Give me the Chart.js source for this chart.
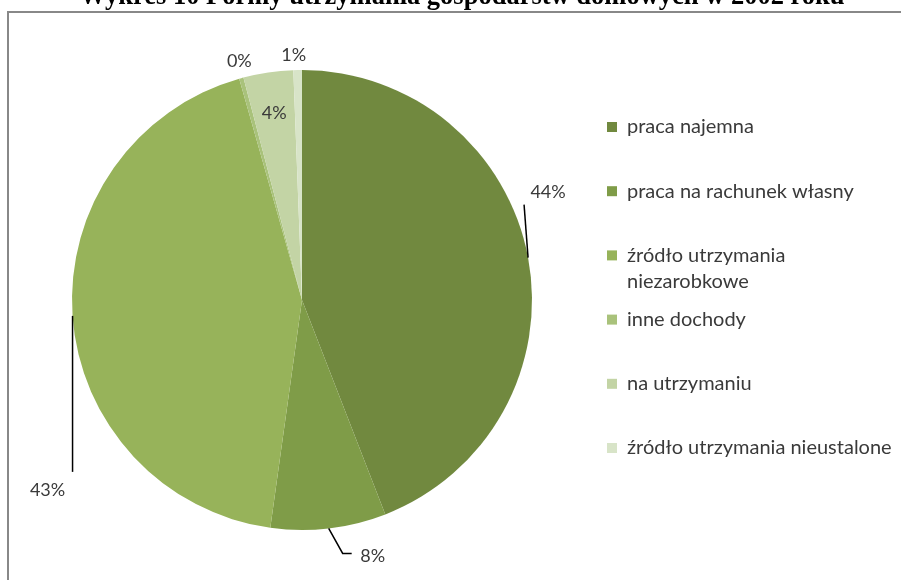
<!DOCTYPE html>
<html>
<head>
<meta charset="utf-8">
<script src="https://cdn.jsdelivr.net/npm/chart.js@4"></script>
<style>
    body { margin: 0; background: white; }
    #wrap { width: 901px; height: 580px; position: relative; }
</style>
</head>
<body>
<div id="wrap"><canvas id="chart" width="901" height="580"></canvas></div>
<script>
const chartTitle = "Wykres 10 Formy utrzymania gospodarstw domowych w 2002 roku";
const categories = [
    "praca najemna",
    "praca na rachunek własny",
    ["źródło utrzymania", "niezarobkowe"],
    "inne dochody",
    "na utrzymaniu",
    "źródło utrzymania nieustalone",
];
const shares = [44.1, 8.1, 43.4, 0.3, 3.5, 0.6];
const sliceColors = ["#71893f", "#7f9c48", "#97b35a", "#a9c27b", "#c3d4a5", "#d8e4c8"];

// where each percentage label sits relative to its slice edge (dx, dy), and leader line shape
const labelLayout = [
    { dx: 20, dy: -65, line: [[0, 0], [-4, -53]] },
    { dx: 44, dy: 28, line: [[0, 0], [14, 25], [23, 25]] },
    { dx: -25, dy: 174, line: [[0, 0], [0, 156]] },
    { dx: -2, dy: -17, line: null },
    { dx: 0, dy: 0, inside: true, line: null },
    { dx: -4, dy: -15, line: null },
];

const textFont = "Lato, 'Open Sans', sans-serif";

const decorations = {
    id: "decorations",
    beforeDraw(chart) {
        const ctx = chart.ctx;
        ctx.save();
        ctx.strokeStyle = "#888888";
        ctx.lineWidth = 2;
        ctx.strokeRect(8, 12, 1000, 1000);
        ctx.restore();
    },
    afterDraw(chart) {
        const ctx = chart.ctx;
        const meta = chart.getDatasetMeta(0);
        const values = chart.data.datasets[0].data;
        const total = values.reduce((a, b) => a + b, 0);

        ctx.save();
        // title, cut off at the top like the source
        ctx.fillStyle = "#000";
        ctx.font = "bold 26.5px 'Liberation Serif', serif";
        ctx.textAlign = "center";
        ctx.textBaseline = "alphabetic";
        ctx.fillText(chartTitle, 462, 4);

        // percentage labels
        ctx.font = "18px " + textFont;
        ctx.fillStyle = "#3a3a3a";
        ctx.strokeStyle = "#000";
        ctx.lineWidth = 1.5;
        meta.data.forEach((arc, i) => {
            const p = arc.getProps(["x", "y", "startAngle", "endAngle", "outerRadius"], true);
            const mid = (p.startAngle + p.endAngle) / 2;
            const text = Math.round(values[i] / total * 100) + "%";
            const lay = labelLayout[i];
            let ax, ay;
            if (lay.inside) {
                ax = p.x + Math.cos(mid) * p.outerRadius * 0.82;
                ay = p.y + Math.sin(mid) * p.outerRadius * 0.82;
            } else {
                ax = p.x + Math.cos(mid) * p.outerRadius;
                ay = p.y + Math.sin(mid) * p.outerRadius;
            }
            if (lay.line) {
                ctx.beginPath();
                lay.line.forEach((pt, k) => {
                    if (k === 0) ctx.moveTo(ax + pt[0], ay + pt[1]);
                    else ctx.lineTo(ax + pt[0], ay + pt[1]);
                });
                ctx.stroke();
            }
            ctx.textAlign = "center";
            ctx.textBaseline = "middle";
            ctx.fillText(text, ax + lay.dx, ay + lay.dy);
        });

        // legend
        ctx.font = "20px " + textFont;
        ctx.textAlign = "left";
        ctx.textBaseline = "middle";
        chart.data.labels.forEach((label, i) => {
            const y = 127 + i * 64.2;
            ctx.fillStyle = sliceColors[i];
            ctx.fillRect(607, y - 5, 10, 10);
            ctx.fillStyle = "#3a3a3a";
            const lines = Array.isArray(label) ? label : [label];
            lines.forEach((ln, k) => ctx.fillText(ln, 627, y + k * 26));
        });
        ctx.restore();
    },
};

new Chart(document.getElementById("chart").getContext("2d"), {
    type: "pie",
    data: {
        labels: categories,
        datasets: [
            {
                data: shares,
                backgroundColor: sliceColors,
                borderWidth: 0,
            },
        ],
    },
    options: {
        responsive: false,
        animation: false,
        layout: {
            padding: { left: 72, right: 369, top: 70, bottom: 50 },
        },
        plugins: {
            legend: { display: false },
            tooltip: { enabled: false },
        },
    },
    plugins: [decorations],
});
</script>
</body>
</html>
